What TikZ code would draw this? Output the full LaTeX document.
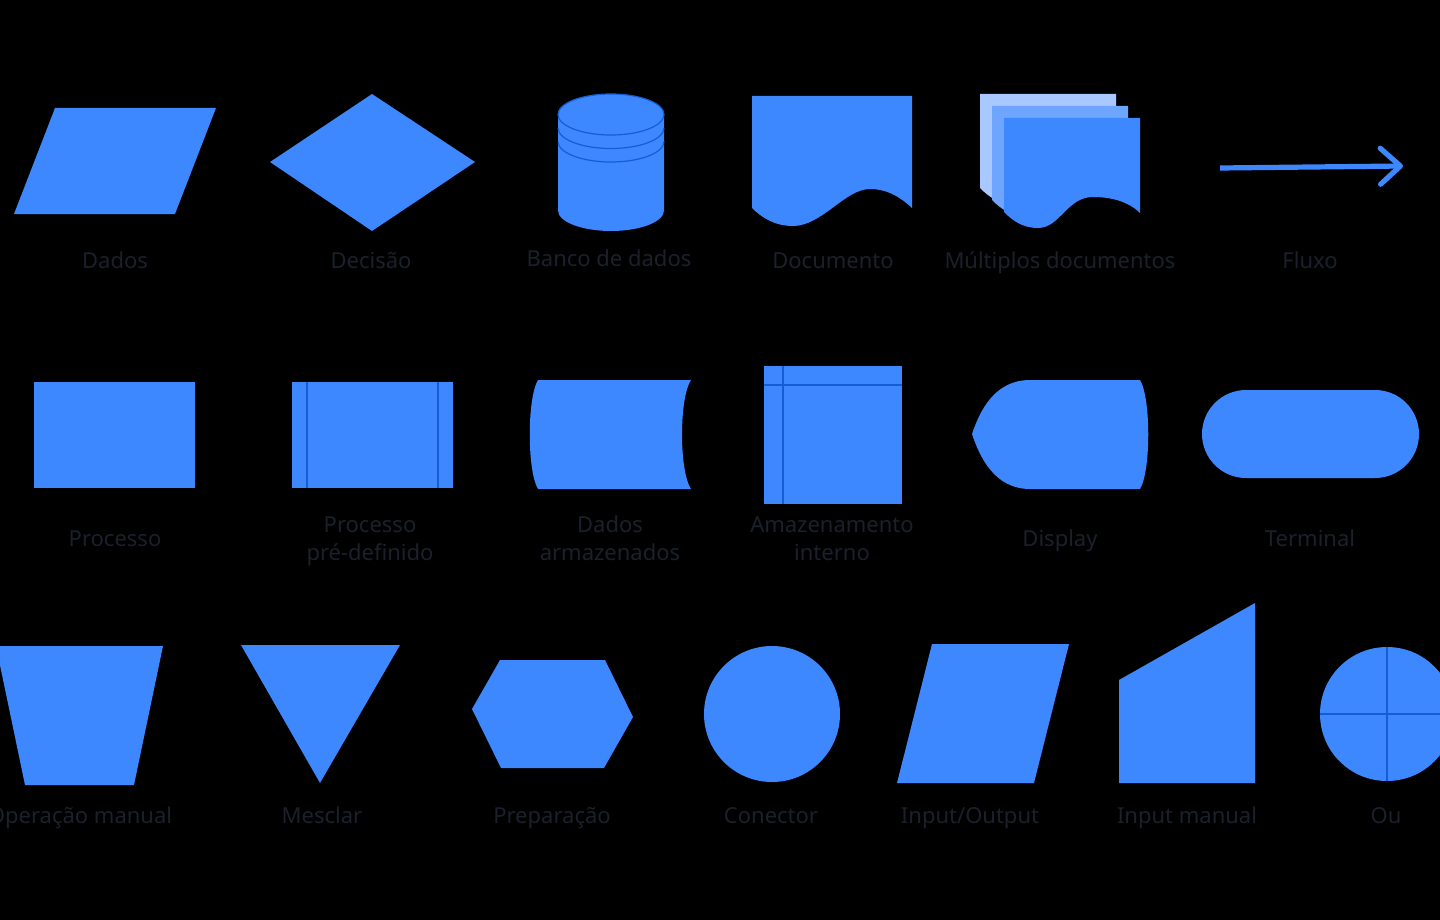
\documentclass[tikz,border=0pt]{standalone}
\usepackage{fontspec}
\setmainfont{Noto Sans}
\usetikzlibrary{arrows.meta}

\definecolor{flowblue}{RGB}{61,135,255}
\definecolor{edgeblue}{RGB}{22,92,214}
\definecolor{sheetlight}{RGB}{168,200,255}
\definecolor{sheetmid}{RGB}{110,165,255}
\definecolor{labelgray}{RGB}{27,32,43}

\begin{document}
\begin{tikzpicture}[x=0.5pt, y=-0.5pt,
  every node/.style={text=labelgray, font=\fontsize{11}{14}\selectfont, align=center, anchor=base},
  blueshape/.style={fill=flowblue},
  innerline/.style={draw=edgeblue, line width=0.6pt}]
\fill[black] (0,0) rectangle (1440,920);
\useasboundingbox (0,0) rectangle (1440,920);

\fill[blueshape] (55,108) -- (216,108) -- (175,214) -- (14,214) -- cycle;
\fill[blueshape] (372,94) -- (475,162) -- (372,231) -- (270,162) -- cycle;
\fill[blueshape] (558,114.5) -- (558,210.5) arc[start angle=180, end angle=0, x radius=53, y radius=20.5]
  -- (664,114.5) arc[start angle=0, end angle=-180, x radius=53, y radius=20.5] -- cycle;
\draw[innerline] (611,114.5) ellipse[x radius=53, y radius=20.5];
\draw[innerline] (558,128) arc[start angle=180, end angle=0, x radius=53, y radius=20.5];
\draw[innerline] (558,141.5) arc[start angle=180, end angle=0, x radius=53, y radius=20.5];
\fill[blueshape] (752,96) -- (912,96) -- (912,208) .. controls (898,195) and (885,189) .. (870,189)
  .. controls (845,189) and (822,226) .. (793,226) .. controls (775,226) and (762,218) .. (752,208) -- cycle;
\foreach \d/\c in {24/sheetlight, 12/sheetmid, 0/flowblue}
  \fill[\c, shift={(-\d,-\d)}] (1004,118) -- (1140,118) -- (1140,213) .. controls (1128,201) and (1110,197) .. (1093,197)
    .. controls (1067,197) and (1060,228) .. (1038,228) .. controls (1022,228) and (1012,220) .. (1004,212) -- cycle;
\coordinate (fluxostart) at (1220,168);
\coordinate (fluxoend) at (1403,166);
\draw[flowblue, line width=2.6pt, -{Straight Barb[length=10pt, width=18pt, round]}] (fluxostart) -- (fluxoend);

\node (dados) at (115,268) {Dados};
\node (decisao) at (371,268) {Decisão};
\node (banco) at (609,266) {Banco de dados};
\node (documento) at (833,268) {Documento};
\node (multiplos) at (1060,268) {Múltiplos documentos};
\node (fluxo) at (1310,268) {Fluxo};

\fill[blueshape] (34,382) rectangle (195,488);
\fill[blueshape] (292,382) rectangle (453,488);
\draw[innerline] (307,382) -- (307,488);
\draw[innerline] (438,382) -- (438,488);
\fill[blueshape] (538,380) -- (691,380) .. controls (679,398) and (679,471) .. (691,489)
  -- (538,489) .. controls (527,471) and (527,398) .. (538,380) -- cycle;
\fill[blueshape] (764,366) rectangle (902,504);
\draw[innerline] (783,366) -- (783,504);
\draw[innerline] (764,385) -- (902,385);
\fill[blueshape] (1030,380) -- (1140,380) .. controls (1151,398) and (1151,471) .. (1140,489)
  -- (1030,489) .. controls (995,489) and (980,458) .. (972,434) .. controls (980,410) and (995,380) .. (1030,380) -- cycle;
\fill[blueshape, rounded corners=22pt] (1202,390) rectangle (1419,478);

\node (processo) at (115,546) {Processo};
\node (predefinido) at (370,560) {Processo\\pré-definido};
\node (armazenados) at (610,560) {Dados\\armazenados};
\node (interno) at (832,560) {Amazenamento\\interno};
\node (display) at (1060,546) {Display};
\node (terminal) at (1310,546) {Terminal};

\fill[blueshape] (-4,646) -- (163,646) -- (134,785) -- (25,785) -- cycle;
\fill[blueshape] (241,645) -- (400,645) -- (320,783) -- cycle;
\fill[blueshape] (500,660) -- (605,660) -- (633,717) -- (604,768) -- (501,768) -- (472,709) -- cycle;
\fill[blueshape] (772,714) circle[radius=68];
\fill[blueshape] (932,644) -- (1069,644) -- (1034,783) -- (897,783) -- cycle;
\fill[blueshape] (1119,680) -- (1255,603) -- (1255,783) -- (1119,783) -- cycle;
\fill[blueshape] (1387,714) circle[radius=67];
\draw[innerline] (1320,714) -- (1454,714);
\draw[innerline] (1387,647) -- (1387,781);

\node (manual) at (80,823) {Operação manual};
\node (mesclar) at (322,823) {Mesclar};
\node (preparacao) at (552,823) {Preparação};
\node (conector) at (771,823) {Conector};
\node (inout) at (970,823) {Input/Output};
\node (inputmanual) at (1187,823) {Input manual};
\node (ou) at (1386,823) {Ou};
\end{tikzpicture}
\end{document}
